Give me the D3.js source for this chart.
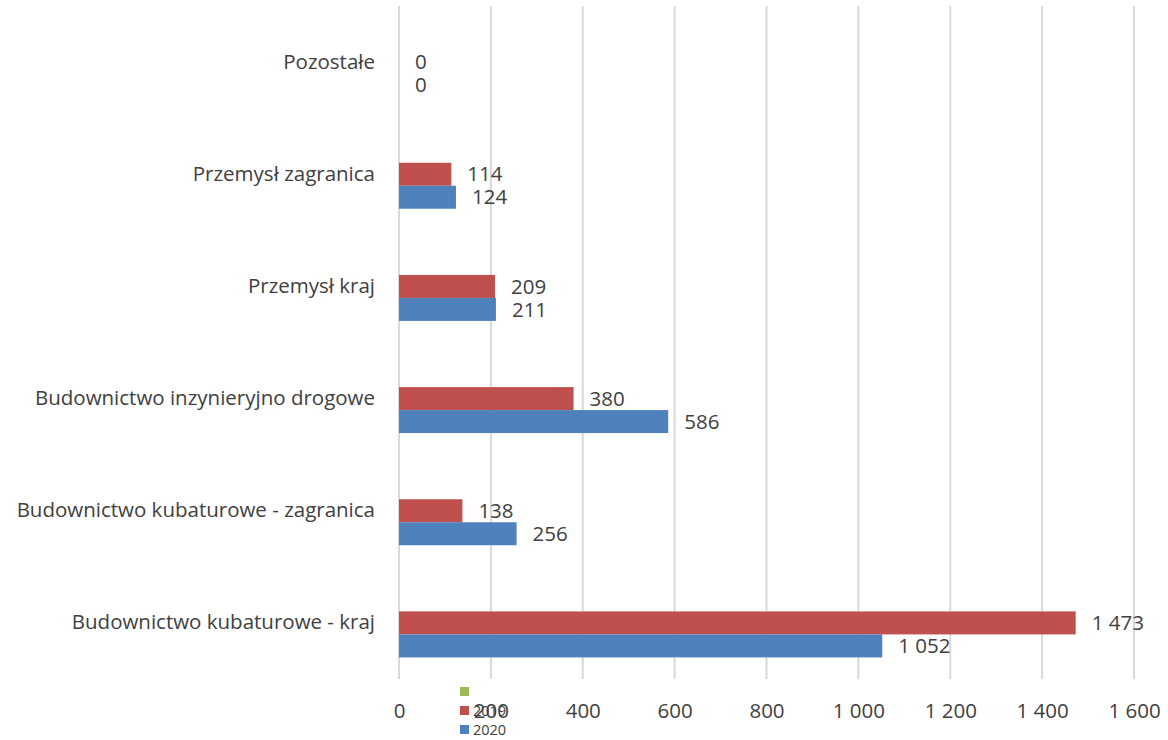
<!DOCTYPE html>
<html>
<head>
<meta charset="utf-8">
<script src="https://cdn.jsdelivr.net/npm/d3@7"></script>
<style>
  html, body { margin: 0; padding: 0; background: #fff; }
  svg { display: block; font-family: "Open Sans", Lato, sans-serif; }
</style>
</head>
<body>
<svg id="chart" width="1168" height="740"></svg>
<script>
// Categories listed top to bottom
const categories = [
  "Pozostałe",
  "Przemysł zagranica",
  "Przemysł kraj",
  "Budownictwo inzynieryjno drogowe",
  "Budownictwo kubaturowe - zagranica",
  "Budownictwo kubaturowe - kraj"
];
const seriesNames = ["", "2019", "2020"];
const seriesColors = ["#9BBB59", "#C0504D", "#4F81BD"];
const values2019 = [0, 114, 209, 380, 138, 1473];
const values2020 = [0, 124, 211, 586, 256, 1052];
const valuesEmpty = [null, null, null, null, null, null];
const xTicks = [0, 200, 400, 600, 800, 1000, 1200, 1400, 1600];

const seriesValues = [valuesEmpty, values2019, values2020];

const svg = d3.select("#chart");
const plot = { left: 399, right: 1134, top: 6, bottom: 679 };
const fontFamily = "'Open Sans', Lato, sans-serif";
const fontSize = 20.5;

const x = d3.scaleLinear().domain([0, 1600]).range([plot.left, plot.right]);
const y = d3.scaleBand().domain(categories).range([plot.top, plot.bottom])
  .paddingInner(0.385).paddingOuter(0.1925);
const ySub = d3.scaleBand().domain(d3.range(seriesNames.length)).range([0, y.bandwidth()]);

const fmt = v => d3.format(",")(v).replace(/,/g, " ");
const textColor = "#404040";

// vertical gridlines
svg.append("g").selectAll("line").data(xTicks).join("line")
  .attr("x1", d => x(d)).attr("x2", d => x(d))
  .attr("y1", plot.top).attr("y2", plot.bottom)
  .attr("stroke", "#d9d9d9").attr("stroke-width", 2);

// x axis labels
const xAxis = d3.axisBottom(x).tickValues(xTicks).tickSize(0).tickFormat(fmt);
const gx = svg.append("g").attr("transform", `translate(0,${plot.bottom + 21})`).call(xAxis);
gx.select(".domain").remove();
gx.selectAll("text").attr("fill", textColor).attr("font-size", fontSize)
  .attr("font-family", fontFamily);

// category labels, aligned with the middle slot of each group
const yAxis = d3.axisLeft(y).tickSize(0).tickPadding(24);
const gy = svg.append("g").attr("transform", `translate(${plot.left},0)`).call(yAxis);
gy.select(".domain").remove();
gy.selectAll("text").attr("fill", textColor).attr("font-size", fontSize)
  .attr("font-family", fontFamily);

// bars with value labels
seriesValues.forEach((vals, si) => {
  const rows = categories.map((c, i) => ({ c, v: vals[i] })).filter(d => d.v !== null);
  const g = svg.append("g");
  g.selectAll("rect").data(rows).join("rect")
    .attr("x", x(0))
    .attr("y", d => y(d.c) + ySub(si))
    .attr("width", d => x(d.v) - x(0))
    .attr("height", ySub.bandwidth())
    .attr("fill", seriesColors[si]);
  g.selectAll("text").data(rows).join("text")
    .attr("x", d => x(d.v) + 16)
    .attr("y", d => y(d.c) + ySub(si) + ySub.bandwidth() / 2)
    .attr("dy", "0.35em")
    .attr("fill", textColor).attr("font-size", fontSize)
    .text(d => fmt(d.v));
});

// legend
const legend = svg.append("g").attr("transform", "translate(460,687)");
seriesNames.forEach((name, i) => {
  const row = legend.append("g").attr("transform", `translate(0,${i * 19})`);
  row.append("rect").attr("width", 9).attr("height", 9).attr("fill", seriesColors[i]);
  row.append("text").attr("x", 13).attr("y", 4.5).attr("dy", "0.35em")
    .attr("font-size", 14.5).attr("fill", textColor).text(name);
});
</script>
</body>
</html>
